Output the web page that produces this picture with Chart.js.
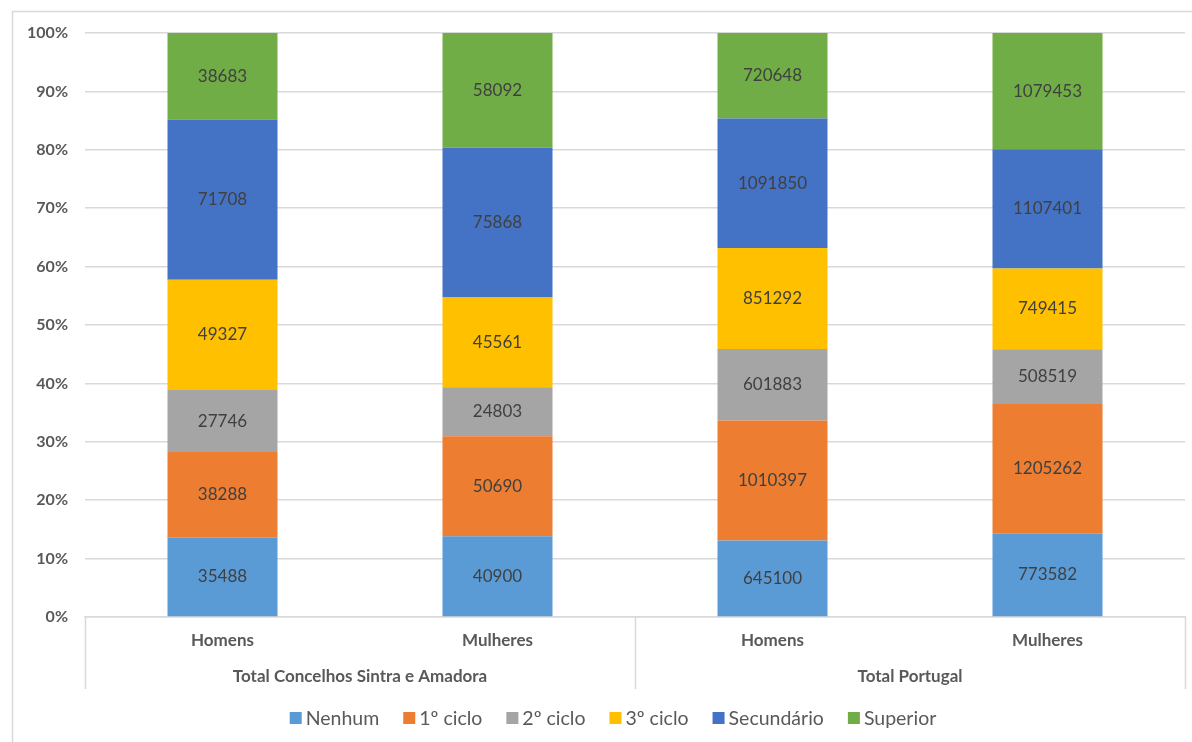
<!DOCTYPE html>
<html><head><meta charset="utf-8">
<script src="https://cdn.jsdelivr.net/npm/chart.js@4"></script>
<style>html,body{margin:0;padding:0;background:#fff}
#wrap{position:relative;width:1192px;height:742px}
</style></head><body><div id="wrap"><canvas id="c" width="1192" height="742"></canvas></div>
<script>
const categories = ['Homens', 'Mulheres', 'Homens', 'Mulheres'];
const groups = ['Total Concelhos Sintra e Amadora', 'Total Portugal'];
const seriesNames = ['Nenhum', '1º ciclo', '2º ciclo', '3º ciclo', 'Secundário', 'Superior'];
const nenhum = [35488, 40900, 645100, 773582];
const ciclo1 = [38288, 50690, 1010397, 1205262];
const ciclo2 = [27746, 24803, 601883, 508519];
const ciclo3 = [49327, 45561, 851292, 749415];
const secundario = [71708, 75868, 1091850, 1107401];
const superior = [38683, 58092, 720648, 1079453];
const yTickValues = [0, 10, 20, 30, 40, 50, 60, 70, 80, 90, 100];
const seriesColors = ['#5B9BD5', '#ED7D31', '#A5A5A5', '#FFC000', '#4472C4', '#70AD47'];

const raw = [nenhum, ciclo1, ciclo2, ciclo3, secundario, superior];
const totals = categories.map((_, i) => raw.reduce((s, arr) => s + arr[i], 0));
const FONT = 'Lato, "Liberation Sans", sans-serif';
const GRID = '#d9d9d9';

const datasets = raw.map((arr, k) => ({
  label: seriesNames[k],
  data: arr.map((v, i) => v / totals[i] * 100),
  rawValues: arr,
  backgroundColor: seriesColors[k],
  borderWidth: 0,
  categoryPercentage: 0.8,
  barPercentage: 0.5
}));

const framePlugin = {
  id: 'frame',
  beforeDraw(chart) {
    const c = chart.ctx;
    c.save();
    c.strokeStyle = GRID; c.lineWidth = 1.5;
    c.beginPath();
    c.moveTo(12.5, 742); c.lineTo(12.5, 11.5); c.lineTo(1192, 11.5);
    c.stroke();
    c.restore();
  }
};

const labelsPlugin = {
  id: 'dlabels',
  afterDatasetsDraw(chart) {
    const c = chart.ctx;
    c.save();
    c.font = '17px ' + FONT;
    c.fillStyle = '#404040';
    c.textAlign = 'center'; c.textBaseline = 'middle';
    chart.data.datasets.forEach((ds, k) => {
      const meta = chart.getDatasetMeta(k);
      meta.data.forEach((bar, i) => {
        const y = (bar.y + bar.base) / 2;
        c.fillText(String(ds.rawValues[i]), bar.x, y);
      });
    });
    c.restore();
  }
};

const multiAxisPlugin = {
  id: 'multiAxis',
  afterDraw(chart) {
    const c = chart.ctx, a = chart.chartArea, xs = chart.scales.x;
    const bottom = a.bottom + 72;
    c.save();
    c.strokeStyle = GRID; c.lineWidth = 1.5;
    const mid = (xs.getPixelForValue(1) + xs.getPixelForValue(2)) / 2;
    [a.left, mid, a.right].forEach(x => {
      c.beginPath(); c.moveTo(Math.round(x) + 0.5, a.bottom); c.lineTo(Math.round(x) + 0.5, bottom); c.stroke();
    });
    c.font = 'bold 17px ' + FONT;
    c.fillStyle = '#595959';
    c.textAlign = 'center'; c.textBaseline = 'middle';
    const g1 = (xs.getPixelForValue(0) + xs.getPixelForValue(1)) / 2;
    const g2 = (xs.getPixelForValue(2) + xs.getPixelForValue(3)) / 2;
    c.fillText(groups[0], g1, a.bottom + 60);
    c.fillText(groups[1], g2, a.bottom + 60);
    c.restore();
  }
};

const legendPlugin = {
  id: 'customLegend',
  afterDraw(chart) {
    const c = chart.ctx;
    const box = 12, gapText = 4, gapItem = 24;
    c.save();
    c.font = '19.5px ' + FONT;
    const items = chart.data.datasets.map(ds => ({ label: ds.label, color: ds.backgroundColor, w: c.measureText(ds.label).width }));
    const total = items.reduce((s, it) => s + box + gapText + it.w, 0) + gapItem * (items.length - 1);
    let x = (293 + 933) / 2 - total / 2;
    const y = 718;
    c.textBaseline = 'middle'; c.textAlign = 'left';
    items.forEach(it => {
      c.fillStyle = it.color;
      c.fillRect(x, y - box / 2, box, box);
      c.fillStyle = '#595959';
      c.fillText(it.label, x + box + gapText, y + 1);
      x += box + gapText + it.w + gapItem;
    });
    c.restore();
  }
};

new Chart(document.getElementById('c'), {
  type: 'bar',
  data: { labels: categories, datasets },
  plugins: [framePlugin, labelsPlugin, multiAxisPlugin, legendPlugin],
  options: {
    responsive: false,
    animation: false,
    layout: { padding: { top: 33, right: 7, left: 0, bottom: 55 } },
    plugins: {
      legend: { display: false },
      tooltip: { enabled: false }
    },
    scales: {
      x: {
        stacked: true,
        grid: { display: false, drawTicks: false },
        border: { display: true, color: GRID, width: 1.5 },
        ticks: { color: '#595959', font: { family: FONT, size: 17, weight: 'bold' }, padding: 13, maxRotation: 0 },
        afterFit(s) { s.height = 70; }
      },
      y: {
        stacked: true,
        min: 0, max: 100,
        afterBuildTicks(s) { s.ticks = yTickValues.map(v => ({ value: v })); },
        afterFit(s) { s.width = 85; },
        grid: { color: GRID, lineWidth: 1.5, drawTicks: false },
        border: { display: false },
        ticks: {
          color: '#595959', padding: 17,
          font: { family: FONT, size: 16, weight: 'bold' },
          callback: v => v + '%'
        }
      }
    }
  }
});
</script></body></html>
